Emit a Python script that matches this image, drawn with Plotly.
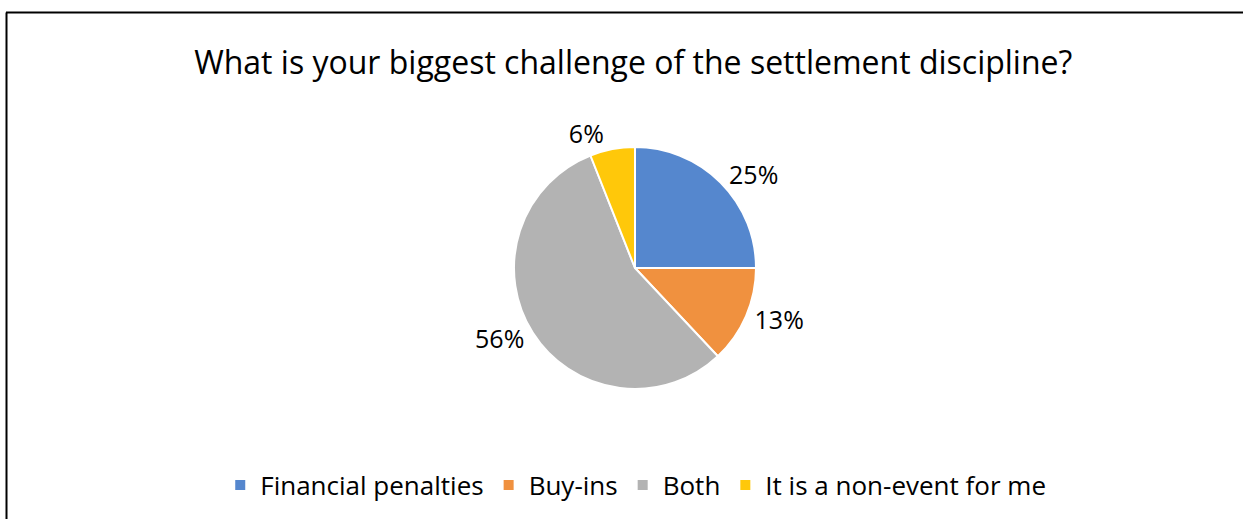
import plotly.graph_objects as go

categories = ["Financial penalties", "Buy-ins", "Both", "It is a non-event for me"]
values = [25, 13, 56, 6]
colors = ["#5587CE", "#F0913F", "#B3B3B3", "#FFC80A"]
title_text = "What is your biggest challenge of the settlement discipline?"

W, H = 1249, 519
cx, cy, r = 635, 268, 121
FONT = "Open Sans"

fig = go.Figure(go.Pie(
    labels=categories,
    values=values,
    sort=False,
    direction="clockwise",
    rotation=0,
    marker=dict(colors=colors, line=dict(color="white", width=2)),
    textinfo="percent",
    texttemplate="%{percent:.0%}",
    textposition="outside",
    textfont=dict(size=25, color="#000000", family=FONT),
    domain=dict(x=[(cx - r) / W, (cx + r) / W], y=[(H - cy - r) / H, (H - cy + r) / H]),
    hoverinfo="label+percent",
))

fig.update_layout(
    width=W, height=H,
    margin=dict(l=0, r=0, t=0, b=0),
    paper_bgcolor="white",
    plot_bgcolor="white",
    font=dict(family=FONT, color="#000000"),
    title=dict(text=title_text, x=0.507, xanchor="center", y=1 - 63 / H, yanchor="middle",
               font=dict(size=32, family=FONT, color="#000000")),
    legend=dict(orientation="h", x=0.509, xanchor="center", y=1 - 485 / H, yanchor="middle",
                font=dict(size=26, family=FONT, color="#000000"),
                itemwidth=30, traceorder="normal"),
    showlegend=True,
    shapes=[
        dict(type="line", xref="paper", yref="paper", x0=6 / W, x1=1243 / W,
             y0=1 - 12.5 / H, y1=1 - 12.5 / H, line=dict(color="#000000", width=2)),
        dict(type="line", xref="paper", yref="paper", x0=6.5 / W, x1=6.5 / W,
             y0=1 - 12.5 / H, y1=0, line=dict(color="#000000", width=2)),
    ],
)

fig.write_html("out.html")
